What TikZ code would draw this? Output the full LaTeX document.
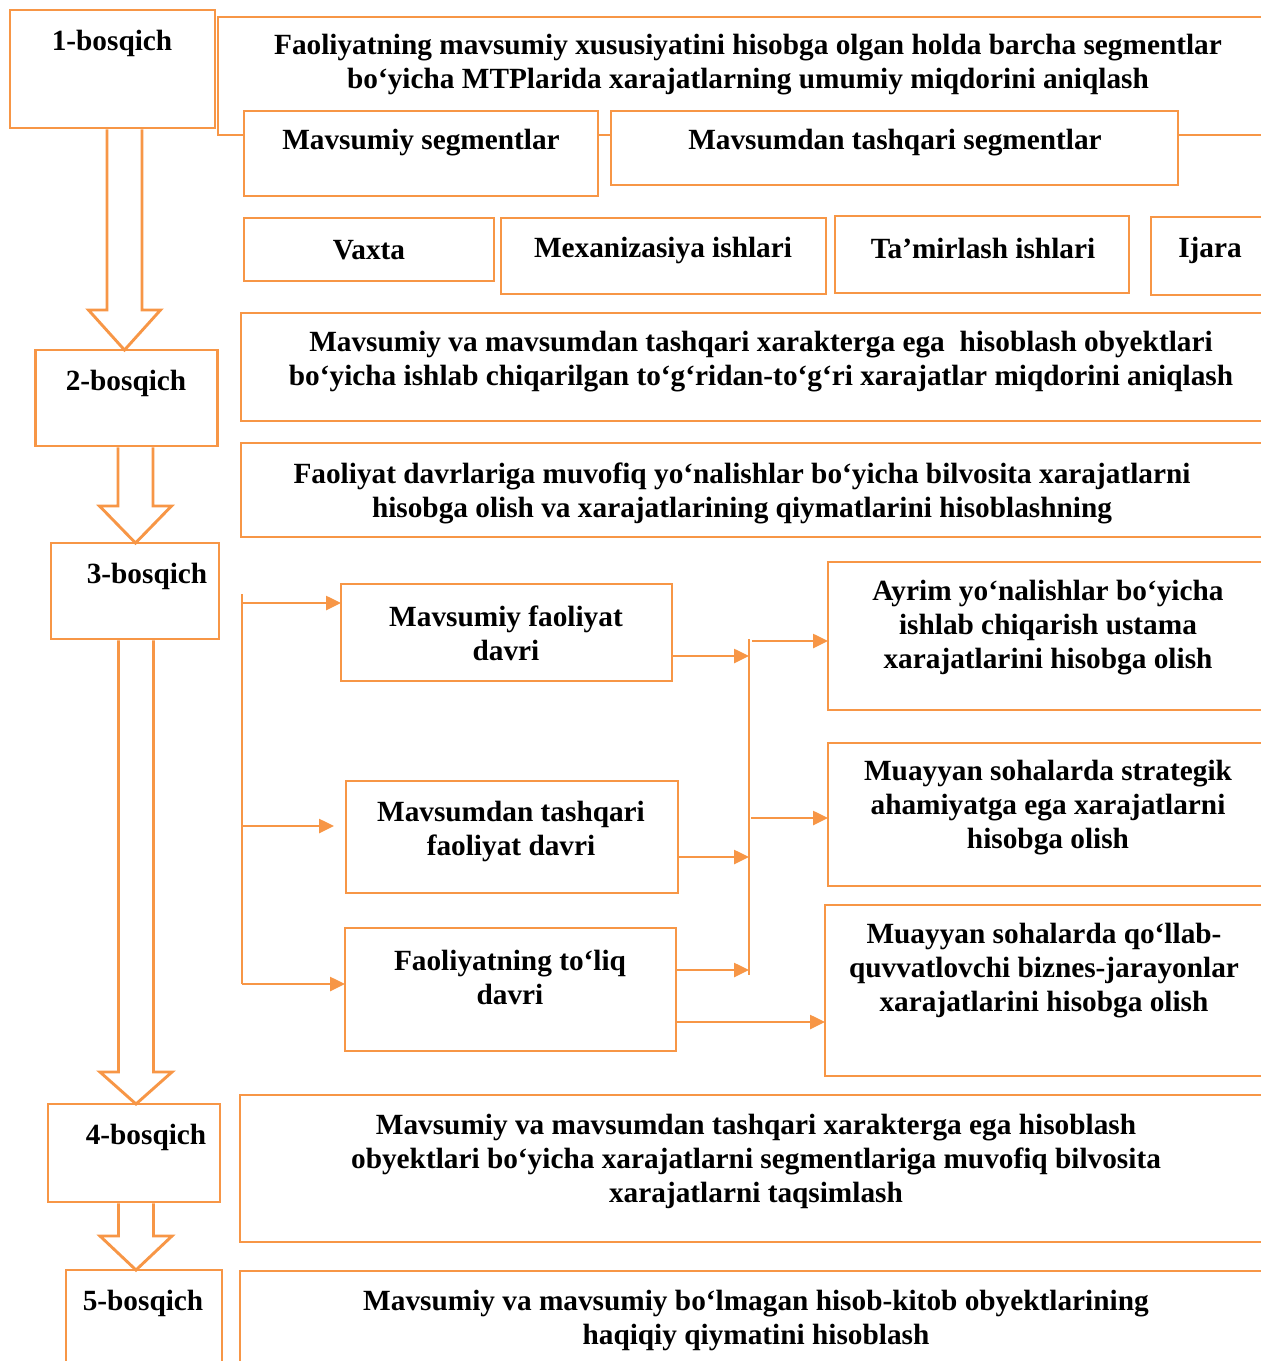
\documentclass[tikz,border=0pt]{standalone}
\usepackage{fontspec}
\setmainfont{Liberation Serif}
\usepackage{tikz}
\usetikzlibrary{calc,arrows.meta}

\definecolor{orgline}{RGB}{247,150,70}

\begin{document}
\begin{tikzpicture}[x=1pt, y=-1pt,
    stage/.style={draw=orgline, line width=2.9pt, fill=white, inner sep=0pt, outer sep=0pt},
    lbl/.style={font=\bfseries\fontsize{29.3}{34}\selectfont, align=center, inner sep=0pt, yshift=-3pt},
    link/.style={draw=orgline, line width=2.6pt, -{Triangle[length=15pt,width=14pt]}},
    rail/.style={draw=orgline, line width=2.6pt}]
		% 1. canvas
		\useasboundingbox (0,0) rectangle (1261,1361);
		\clip (0,0) rectangle (1261,1361);
		
		\def\sw{17.5pt} % shaft half width
		\def\hw{36pt}   % head half width
		\def\stepflow#1#2#3#4{%
			\draw[stage] let \p1=(#1.south), \p2=(#2.north) in
			(#3pt-\sw,\y1-1.4pt) -- (#3pt-\sw,\y2+#4pt) -- (#3pt-\hw,\y2+#4pt) -- (#3pt,\y2)
			-- (#3pt+\hw,\y2+#4pt) -- (#3pt+\sw,\y2+#4pt) -- (#3pt+\sw,\y1-1.4pt);}
		
		% 2. bosqich boxes
		\node[stage, minimum width=205, minimum height=118] (s1) at (112.5,69) {};
		\node[lbl] (l1) at (112,40) {1-bosqich};
		\node[stage, minimum width=182, minimum height=96] (s2) at (126.5,398) {};
		\node[lbl] (l2) at (126,380) {2-bosqich};
		\node[stage, minimum width=168, minimum height=96] (s3) at (135,591) {};
		\node[lbl] (l3) at (147,573) {3-bosqich};
		\node[stage, minimum width=172, minimum height=98] (s4) at (134,1153) {};
		\node[lbl] (l4) at (146,1134) {4-bosqich};
		\node[stage, minimum width=156, minimum height=130] (s5) at (144,1335) {};
		\node[lbl] (l5) at (143,1300) {5-bosqich};
		
		% 3. block arrows between stages
		\stepflow{s1}{s2}{124.5}{40}
		\stepflow{s2}{s3}{135.5}{37}
		\stepflow{s3}{s4}{136}{32}
		\stepflow{s4}{s5}{136}{34}
		
		% 4. stage 1: total costs and segments
		\node[stage, minimum width=1082, minimum height=118] (t1) at (759,76) {};
		\node[lbl] (t1txt) at (748,62) {Faoliyatning mavsumiy xususiyatini hisobga olgan holda barcha segmentlar\\bo‘yicha MTPlarida xarajatlarning umumiy miqdorini aniqlash};
		\node[stage, minimum width=354, minimum height=85] (seg1) at (421,153.5) {};
		\node[lbl] (seg1txt) at (421,140) {Mavsumiy segmentlar};
		\node[stage, minimum width=567, minimum height=74] (seg2) at (894.5,148) {};
		\node[lbl] (seg2txt) at (895,140) {Mavsumdan tashqari segmentlar};
		
		\node[stage, minimum width=250, minimum height=63] (k1) at (369,249.5) {};
		\node[lbl] (k1txt) at (369,247) {Vaxta};
		\node[stage, minimum width=325, minimum height=76] (k2) at (663.5,256) {};
		\node[lbl] (k2txt) at (663,247) {Mexanizasiya ishlari};
		\node[stage, minimum width=294, minimum height=77] (k3) at (982,254.5) {};
		\node[lbl] (k3txt) at (983,245) {Ta’mirlash ishlari};
		\node[stage, minimum width=149, minimum height=78] (k4) at (1225.5,256) {};
		\node[lbl] (k4txt) at (1210,247) {Ijara};
		
		% 5. stage 2
		\node[stage, minimum width=1059, minimum height=108] (t2) at (770.5,367) {};
		\node[lbl] (t2txt) at (761,359) {Mavsumiy va mavsumdan tashqari xarakterga ega\ \ hisoblash obyektlari\\bo‘yicha ishlab chiqarilgan to‘g‘ridan-to‘g‘ri xarajatlar miqdorini aniqlash};
		\node[stage, minimum width=1059, minimum height=94] (t3) at (770.5,490) {};
		\node[lbl] (t3txt) at (742,490) {Faoliyat davrlariga muvofiq yo‘nalishlar bo‘yicha bilvosita xarajatlarni\\hisobga olish va xarajatlarining qiymatlarini hisoblashning};
		
		% 6. stage 3: activity periods
		\node[stage, minimum width=331, minimum height=97] (p1) at (506.5,632.5) {};
		\node[lbl] (p1txt) at (506,630) {Mavsumiy faoliyat\\davri};
		\node[stage, minimum width=332, minimum height=112] (p2) at (512,837) {};
		\node[lbl] (p2txt) at (511,828) {Mavsumdan tashqari\\faoliyat davri};
		\node[stage, minimum width=331, minimum height=123] (p3) at (510.5,989.5) {};
		\node[lbl] (p3txt) at (510,974) {Faoliyatning to‘liq\\davri};
		
		\node[stage, minimum width=472, minimum height=148] (r1) at (1064,636) {};
		\node[lbl] (r1txt) at (1048,625) {Ayrim yo‘nalishlar bo‘yicha\\ishlab chiqarish ustama\\xarajatlarini hisobga olish};
		\node[stage, minimum width=472, minimum height=143] (r2) at (1064,814.5) {};
		\node[lbl] (r2txt) at (1048,805) {Muayyan sohalarda strategik\\ahamiyatga ega xarajatlarni\\hisobga olish};
		\node[stage, minimum width=475, minimum height=171] (r3) at (1062.5,990.5) {};
		\node[lbl] (r3txt) at (1044,968) {Muayyan sohalarda qo‘llab-\\quvvatlovchi biznes-jarayonlar\\xarajatlarini hisobga olish};
		
		% 7. branch lines
		\coordinate (bl1) at (242,594);
		\coordinate (bl2) at (242,984);
		\draw[rail] (bl1) -- (bl2);
		\coordinate (ba1) at (242,603);
		\coordinate (ba2) at (242,826);
		\draw[link] (ba1) -- (ba1 -| p1.west);
		\draw[link, shorten >=12pt] (ba2) -- (ba2 -| p2.west);
		\draw[link] (bl2) -- (bl2 -| p3.west);
		
		\coordinate (br1) at (749,639);
		\coordinate (br2) at (749,975);
		\draw[rail] (br1) -- (br2);
		\coordinate (bi1) at (749,656);
		\coordinate (bi2) at (749,857);
		\coordinate (bi3) at (749,970);
		\draw[link] (bi1 -| p1.east) -- (bi1);
		\draw[link] (bi2 -| p2.east) -- (bi2);
		\draw[link] (bi3 -| p3.east) -- (bi3);
		
		\coordinate (bo1) at (752,641);
		\coordinate (bo2) at (751,818);
		\coordinate (bo3) at (0,1022);
		\draw[link] (bo1) -- (bo1 -| r1.west);
		\draw[link] (bo2) -- (bo2 -| r2.west);
		\draw[link] (bo3 -| p3.east) -- (bo3 -| r3.west);
		
		% 8. stages 4 and 5
		\node[stage, minimum width=1060, minimum height=147] (t4) at (770,1168.5) {};
		\node[lbl] (t4txt) at (756,1158) {Mavsumiy va mavsumdan tashqari xarakterga ega hisoblash\\obyektlari bo‘yicha xarajatlarni segmentlariga muvofiq bilvosita\\xarajatlarni taqsimlash};
		\node[stage, minimum width=1060, minimum height=149] (t5) at (770,1345.5) {};
		\node[lbl] (t5txt) at (756,1317) {Mavsumiy va mavsumiy bo‘lmagan hisob-kitob obyektlarining\\haqiqiy qiymatini hisoblash};
		
	\end{tikzpicture}
\end{document}
